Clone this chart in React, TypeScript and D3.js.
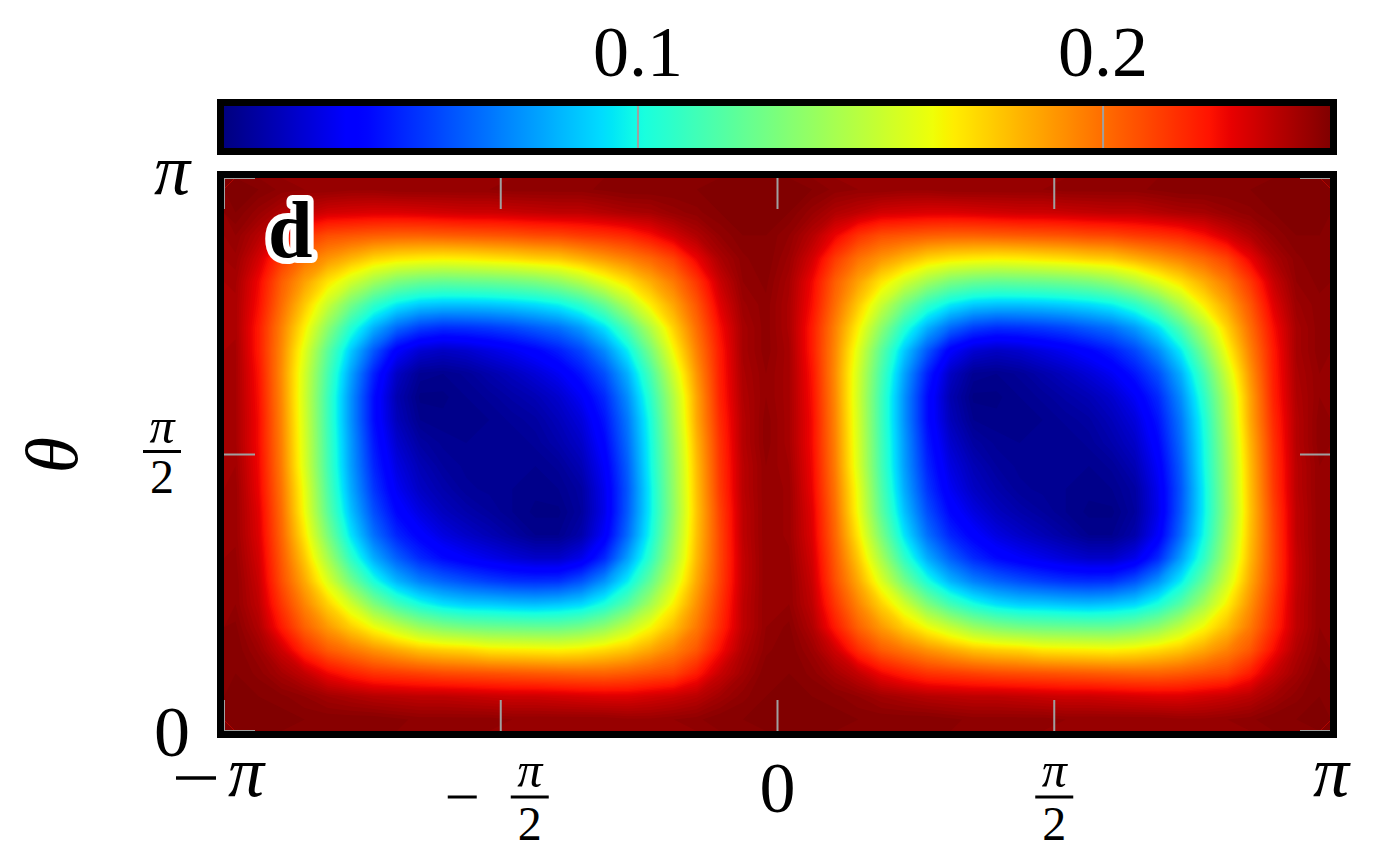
import React from "react";
import * as d3 from "d3";

// Heat-map values: 24 rows (theta from pi at the top down to 0),
// 48 columns (phi from -pi to pi), sampled at cell centres.
const fieldRows: number[][] = [
  [.249,.248,.246,.245,.245,.244,.244,.245,.245,.245,.245,.245,.246,.246,.246,.246,.247,.248,.248,.248,.248,.249,.249,.249, .249,.248,.246,.245,.245,.244,.244,.245,.245,.245,.245,.245,.246,.246,.246,.246,.247,.248,.248,.248,.248,.249,.249,.249],
  [.248,.244,.239,.236,.232,.231,.230,.230,.231,.232,.233,.233,.234,.235,.236,.236,.238,.240,.241,.244,.246,.248,.249,.249, .248,.244,.239,.236,.232,.231,.230,.230,.231,.232,.233,.233,.234,.235,.236,.236,.238,.240,.241,.244,.246,.248,.249,.249],
  [.245,.238,.227,.215,.208,.206,.204,.203,.203,.204,.205,.206,.207,.209,.210,.213,.215,.218,.224,.232,.239,.245,.248,.248, .245,.238,.227,.215,.208,.206,.204,.203,.203,.204,.205,.206,.207,.209,.210,.213,.215,.218,.224,.232,.239,.245,.248,.248],
  [.243,.232,.213,.199,.190,.182,.174,.170,.168,.167,.168,.170,.172,.175,.177,.183,.189,.195,.202,.211,.227,.240,.246,.248, .243,.232,.213,.199,.190,.182,.174,.170,.168,.167,.168,.170,.172,.175,.177,.183,.189,.195,.202,.211,.227,.240,.246,.248],
  [.241,.226,.204,.187,.170,.155,.141,.130,.125,.123,.124,.125,.127,.130,.136,.146,.159,.171,.184,.197,.214,.234,.245,.247, .241,.226,.204,.187,.170,.155,.141,.130,.125,.123,.124,.125,.127,.130,.136,.146,.159,.171,.184,.197,.214,.234,.245,.247],
  [.240,.224,.200,.177,.152,.128,.108,.095,.088,.086,.086,.087,.089,.092,.097,.107,.123,.145,.168,.186,.206,.229,.243,.246, .240,.224,.200,.177,.152,.128,.108,.095,.088,.086,.086,.087,.089,.092,.097,.107,.123,.145,.168,.186,.206,.229,.243,.246],
  [.240,.221,.195,.167,.135,.105,.082,.065,.055,.051,.052,.054,.057,.062,.067,.077,.093,.117,.146,.175,.200,.224,.241,.246, .240,.221,.195,.167,.135,.105,.082,.065,.055,.051,.052,.054,.057,.062,.067,.077,.093,.117,.146,.175,.200,.224,.241,.246],
  [.241,.221,.193,.159,.121,.088,.061,.038,.028,.025,.027,.031,.035,.040,.047,.057,.073,.096,.129,.165,.195,.221,.241,.246, .241,.221,.193,.159,.121,.088,.061,.038,.028,.025,.027,.031,.035,.040,.047,.057,.073,.096,.129,.165,.195,.221,.241,.246],
  [.241,.223,.192,.155,.115,.079,.048,.025,.015,.014,.016,.020,.024,.029,.035,.045,.059,.082,.115,.154,.190,.220,.240,.245, .241,.223,.192,.155,.115,.079,.048,.025,.015,.014,.016,.020,.024,.029,.035,.045,.059,.082,.115,.154,.190,.220,.240,.245],
  [.241,.224,.193,.154,.112,.075,.043,.021,.012,.012,.014,.016,.019,.022,.027,.036,.050,.074,.107,.146,.186,.219,.239,.245, .241,.224,.193,.154,.112,.075,.043,.021,.012,.012,.014,.016,.019,.022,.027,.036,.050,.074,.107,.146,.186,.219,.239,.245],
  [.241,.225,.194,.155,.112,.075,.043,.023,.014,.013,.013,.014,.016,.018,.023,.030,.045,.069,.102,.143,.185,.217,.238,.246, .241,.225,.194,.155,.112,.075,.043,.023,.014,.013,.013,.014,.016,.018,.023,.030,.045,.069,.102,.143,.185,.217,.238,.246],
  [.241,.225,.195,.156,.113,.077,.046,.027,.018,.015,.014,.014,.014,.016,.020,.026,.041,.066,.100,.140,.182,.215,.238,.246, .241,.225,.195,.156,.113,.077,.046,.027,.018,.015,.014,.014,.014,.016,.020,.026,.041,.066,.100,.140,.182,.215,.238,.246],
  [.242,.226,.196,.157,.114,.078,.049,.031,.022,.017,.015,.014,.014,.014,.016,.022,.037,.063,.099,.138,.180,.214,.237,.245, .242,.226,.196,.157,.114,.078,.049,.031,.022,.017,.015,.014,.014,.014,.016,.022,.037,.063,.099,.138,.180,.214,.237,.245],
  [.243,.227,.198,.161,.117,.081,.053,.035,.025,.020,.016,.015,.014,.013,.014,.018,.034,.061,.097,.137,.179,.213,.237,.245, .243,.227,.198,.161,.117,.081,.053,.035,.025,.020,.016,.015,.014,.013,.014,.018,.034,.061,.097,.137,.179,.213,.237,.245],
  [.243,.229,.200,.163,.121,.086,.059,.041,.031,.024,.020,.017,.014,.012,.012,.017,.033,.062,.097,.136,.178,.211,.236,.245, .243,.229,.200,.163,.121,.086,.059,.041,.031,.024,.020,.017,.014,.012,.012,.017,.033,.062,.097,.136,.178,.211,.236,.245],
  [.243,.230,.202,.169,.130,.094,.067,.049,.039,.031,.026,.022,.018,.014,.014,.020,.037,.066,.100,.139,.179,.210,.236,.245, .243,.230,.202,.169,.130,.094,.067,.049,.039,.031,.026,.022,.018,.014,.014,.020,.037,.066,.100,.139,.179,.210,.236,.245],
  [.244,.232,.205,.177,.143,.108,.081,.063,.050,.042,.037,.033,.029,.026,.026,.033,.050,.078,.108,.144,.181,.210,.235,.245, .244,.232,.205,.177,.143,.108,.081,.063,.050,.042,.037,.033,.029,.026,.026,.033,.050,.078,.108,.144,.181,.210,.235,.245],
  [.245,.234,.208,.185,.158,.128,.102,.083,.071,.064,.059,.055,.052,.051,.052,.060,.075,.096,.123,.154,.185,.211,.235,.245, .245,.234,.208,.185,.158,.128,.102,.083,.071,.064,.059,.055,.052,.051,.052,.060,.075,.096,.123,.154,.185,.211,.235,.245],
  [.245,.236,.214,.194,.175,.155,.131,.113,.101,.093,.089,.088,.086,.085,.087,.091,.102,.119,.142,.167,.191,.214,.236,.245, .245,.236,.214,.194,.175,.155,.131,.113,.101,.093,.089,.088,.086,.085,.087,.091,.102,.119,.142,.167,.191,.214,.236,.245],
  [.247,.239,.221,.203,.189,.176,.163,.151,.139,.132,.128,.126,.125,.124,.124,.128,.136,.150,.165,.180,.197,.217,.236,.245, .247,.239,.221,.203,.189,.176,.163,.151,.139,.132,.128,.126,.125,.124,.124,.128,.136,.150,.165,.180,.197,.217,.236,.245],
  [.248,.243,.233,.217,.205,.198,.191,.185,.179,.176,.174,.170,.169,.168,.167,.169,.173,.178,.186,.195,.206,.224,.239,.246, .248,.243,.233,.217,.205,.198,.191,.185,.179,.176,.174,.170,.169,.168,.167,.169,.173,.178,.186,.195,.206,.224,.239,.246],
  [.248,.246,.241,.235,.226,.220,.215,.213,.211,.209,.208,.207,.206,.205,.204,.203,.203,.205,.208,.211,.221,.234,.242,.248, .248,.246,.241,.235,.226,.220,.215,.213,.211,.209,.208,.207,.206,.205,.204,.203,.203,.205,.208,.211,.221,.234,.242,.248],
  [.249,.248,.247,.245,.242,.240,.238,.237,.236,.236,.235,.234,.233,.233,.232,.231,.230,.230,.232,.234,.237,.242,.246,.248, .249,.248,.247,.245,.242,.240,.238,.237,.236,.236,.235,.234,.233,.233,.232,.231,.230,.230,.232,.234,.237,.242,.246,.248],
  [.249,.249,.249,.248,.248,.248,.248,.247,.246,.246,.246,.246,.245,.245,.245,.245,.245,.244,.244,.245,.246,.248,.248,.249, .249,.249,.249,.248,.248,.248,.248,.247,.246,.246,.246,.246,.245,.245,.245,.245,.245,.244,.244,.245,.246,.248,.248,.249],
];

const phiTicks = [-Math.PI, -Math.PI / 2, 0, Math.PI / 2, Math.PI];
const phiTickLabels = ["−π", "−π/2", "0", "π/2", "π"];
const thetaTicks = [0, Math.PI / 2, Math.PI];
const thetaTickLabels = ["0", "π/2", "π"];
const colorbarTicks = [0.1, 0.2];
const colorbarTickLabels = ["0.1", "0.2"];
const valueExtent = [0.011, 0.249];
const panelLabel = "d";
const yAxisLabel = "θ";

const FONT = "'Liberation Serif', 'Times New Roman', serif";

// matplotlib "jet" channel definitions
const jr = d3.scaleLinear().domain([0, 0.35, 0.66, 0.89, 1]).range([0, 0, 1, 1, 0.5]).clamp(true);
const jg = d3.scaleLinear().domain([0, 0.125, 0.375, 0.64, 0.91, 1]).range([0, 0, 1, 1, 0, 0]).clamp(true);
const jb = d3.scaleLinear().domain([0, 0.11, 0.34, 0.65, 1]).range([0.5, 1, 1, 0, 0]).clamp(true);
const jet = (t: number) => d3.rgb(255 * jr(t), 255 * jg(t), 255 * jb(t)).formatHex();

export default function App() {
  const left = 224, right = 1331, top = 178, bottom = 731;
  const nx = fieldRows[0].length;
  const ny = fieldRows.length;

  const x = d3.scaleLinear().domain([-Math.PI, Math.PI]).range([left, right]);
  const y = d3.scaleLinear().domain([0, Math.PI]).range([bottom, top]);
  const gx = d3.scaleLinear().domain([0, nx]).range([left, right]);
  const gy = d3.scaleLinear().domain([0, ny]).range([top, bottom]);
  const tScale = d3.scaleLinear().domain(valueExtent).range([0, 1]).clamp(true);
  const color = (v: number) => jet(tScale(v));
  const cb = d3.scaleLinear().domain(valueExtent).range([left, right]);

  const step = 0.0015;
  const thresholds = d3.range(valueExtent[0], valueExtent[1], step);
  const contours = d3.contours().size([nx, ny]).thresholds(thresholds)(fieldRows.flat());
  const transform = d3.geoTransform({
    point: function (px: number, py: number) {
      (this as any).stream.point(gx(px), gy(py));
    },
  });
  const path = d3.geoPath(transform);

  const gradStops = d3.range(0, 1.0001, 0.01);
  const tickColor = "#a0a0a0";
  const tickLen = 31;

  const fraction = (cx: number, numBase: number, barY: number, denBase: number, key: string) => (
    <g key={key}>
      <text x={cx} y={numBase} textAnchor="middle" fontSize={50} fontStyle="italic">π</text>
      <line x1={cx - 19} x2={cx + 19} y1={barY} y2={barY} stroke="#000" strokeWidth={3} />
      <text x={cx} y={denBase} textAnchor="middle" fontSize={48}>2</text>
    </g>
  );

  return (
    <svg
      width={1382}
      height={866}
      style={{ position: "absolute", left: 0, top: 0, display: "block", background: "#fff" }}
      fontFamily={FONT}
    >
      <defs>
        <linearGradient id="jetGrad" x1="0" x2="1" y1="0" y2="0">
          {gradStops.map((t) => (
            <stop key={t} offset={t} stopColor={jet(t)} />
          ))}
        </linearGradient>
      </defs>

      {/* colorbar */}
      <rect x={left} y={106} width={right - left} height={42} fill="url(#jetGrad)" />
      {colorbarTicks.map((v) => (
        <line key={v} x1={cb(v)} x2={cb(v)} y1={106} y2={148} stroke={tickColor} strokeWidth={2} />
      ))}
      <rect x={220.5} y={102.5} width={1113} height={49} fill="none" stroke="#000" strokeWidth={7} />
      {colorbarTicks.map((v, i) => (
        <text key={v} x={cb(v)} y={76} textAnchor="middle" fontSize={72}>
          {colorbarTickLabels[i]}
        </text>
      ))}

      {/* heat map */}
      <rect x={left} y={top} width={right - left} height={bottom - top} fill={color(valueExtent[1])} />
      {contours.map((c, i) => (
        <path key={i} d={path(c as any) || ""} fill={color(c.value + step / 2)} />
      ))}

      {/* ticks */}
      {phiTicks.map((v) => (
        <g key={"p" + v}>
          <line x1={x(v)} x2={x(v)} y1={bottom} y2={bottom - tickLen} stroke={tickColor} strokeWidth={2} />
          <line x1={x(v)} x2={x(v)} y1={top} y2={top + tickLen} stroke={tickColor} strokeWidth={2} />
        </g>
      ))}
      {thetaTicks.map((v) => (
        <g key={"t" + v}>
          <line x1={left} x2={left + tickLen} y1={y(v)} y2={y(v)} stroke={tickColor} strokeWidth={2} />
          <line x1={right} x2={right - tickLen} y1={y(v)} y2={y(v)} stroke={tickColor} strokeWidth={2} />
        </g>
      ))}

      {/* frame */}
      <rect x={220.5} y={174.5} width={1113} height={560} fill="none" stroke="#000" strokeWidth={7} />

      {/* panel label */}
      <text
        x={268}
        y={257}
        fontSize={80}
        fontWeight="bold"
        fill="#000"
        stroke="#fff"
        strokeWidth={12}
        strokeLinejoin="round"
        style={{ paintOrder: "stroke" }}
      >
        {panelLabel}
      </text>

      {/* x tick labels */}
      {phiTicks.map((v, i) => {
        const lab = phiTickLabels[i];
        const cx = x(v);
        const neg = lab.startsWith("−");
        if (lab.includes("/2")) {
          const fx = neg ? cx + 29 : cx;
          return (
            <g key={"xl" + i}>
              {neg && <line x1={cx - 53} x2={cx - 24} y1={797} y2={797} stroke="#000" strokeWidth={3} />}
              {fraction(fx, 787, 797, 840, "f" + i)}
            </g>
          );
        }
        if (lab === "0") {
          return (
            <text key={"xl" + i} x={cx} y={812} textAnchor="middle" fontSize={72}>0</text>
          );
        }
        if (neg) {
          return (
            <g key={"xl" + i}>
              <line x1={cx - 48} x2={cx - 8} y1={778} y2={778} stroke="#000" strokeWidth={3.5} />
              <text x={cx + 22} y={796} textAnchor="middle" fontSize={72} fontStyle="italic">π</text>
            </g>
          );
        }
        return (
          <text key={"xl" + i} x={cx} y={796} textAnchor="middle" fontSize={72} fontStyle="italic">π</text>
        );
      })}

      {/* y tick labels */}
      {thetaTicks.map((v, i) => {
        const lab = thetaTickLabels[i];
        const cy = y(v);
        if (lab === "π/2") return fraction(162, cy - 12, cy - 3, cy + 38, "yl" + i);
        if (lab === "0")
          return (
            <text key={"yl" + i} x={190} y={cy + 25} textAnchor="end" fontSize={72}>0</text>
          );
        return (
          <text key={"yl" + i} x={190} y={cy + 16} textAnchor="end" fontSize={72} fontStyle="italic">π</text>
        );
      })}

      {/* y axis label */}
      <text
        transform="translate(52,455) rotate(-90)"
        textAnchor="middle"
        dominantBaseline="central"
        fontSize={74}
        fontStyle="italic"
      >
        {yAxisLabel}
      </text>
    </svg>
  );
}
